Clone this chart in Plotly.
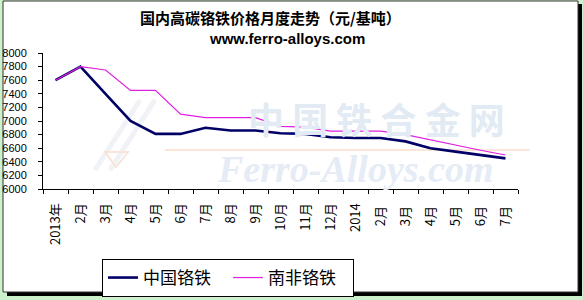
import plotly.graph_objects as go

categories = ["2013年", "2月", "3月", "4月", "5月", "6月", "7月", "8月", "9月", "10月",
              "11月", "12月", "2014", "2月 ", "3月 ", "4月 ", "5月 ", "6月 ", "7月 "]
china = [7600, 7800, 7400, 7000, 6810, 6810, 6900, 6860, 6860, 6820,
         6810, 6760, 6750, 6750, 6700, 6600, 6550, 6500, 6450]
south_africa = [7600, 7800, 7750, 7450, 7450, 7100, 7050, 7050, 7050, 6920,
                6910, 6850, 6850, 6850, 6800, 6720, 6650, 6570, 6500]
y_ticks = [6000, 6200, 6400, 6600, 6800, 7000, 7200, 7400, 7600, 7800, 8000]

W, H = 583, 300
L, R, T, B = 43, 518, 53, 189

def px(x):
    return (x - L) / (R - L)

def py(y):
    return (B - y) / (B - T)

fig = go.Figure()
fig.add_trace(go.Scatter(x=categories, y=china, mode="lines", name="中国铬铁",
                         line=dict(color="#000066", width=2.6)))
fig.add_trace(go.Scatter(x=categories, y=south_africa, mode="lines", name="南非铬铁",
                         line=dict(color="#e020e0", width=1.2)))

shapes = [
    dict(type="rect", xref="paper", yref="paper", x0=px(577), x1=px(582), y0=py(296), y1=py(4),
         fillcolor="black", line=dict(width=0), layer="below"),
    dict(type="rect", xref="paper", yref="paper", x0=px(7), x1=px(582), y0=py(296), y1=py(291),
         fillcolor="black", line=dict(width=0), layer="below"),
    dict(type="rect", xref="paper", yref="paper", x0=px(3), x1=px(578), y0=py(292), y1=py(1),
         fillcolor="white", line=dict(color="#333333", width=1), layer="below"),
    dict(type="line", xref="paper", yref="paper", x0=px(165), x1=px(530), y0=py(150), y1=py(150),
         line=dict(color="#fbe6d8", width=2), layer="below"),
    dict(type="line", xref="paper", yref="paper", x0=px(95), x1=px(140), y0=py(170), y1=py(100),
         line=dict(color="#f0f2f6", width=5), layer="below"),
    dict(type="line", xref="paper", yref="paper", x0=px(110), x1=px(155), y0=py(170), y1=py(100),
         line=dict(color="#f0f2f6", width=5), layer="below"),
    dict(type="path", xref="paper", yref="paper",
         path=f"M {px(105)} {py(152)} L {px(128)} {py(152)} L {px(116)} {py(167)} Z",
         line=dict(color="#f9e4da", width=2), layer="below"),
]

annotations = [
    dict(text="<b>中 国 铁 合 金 网</b>", x=px(376), y=py(118), xref="paper", yref="paper", showarrow=False,
         font=dict(family="Noto Sans CJK SC", size=36, color="#e2eaf4"),
         xanchor="center", yanchor="middle"),
    dict(text="<i><b>Ferro-Alloys.com</b></i>", x=px(355), y=py(169), xref="paper", yref="paper",
         showarrow=False, font=dict(family="Liberation Serif", size=38, color="#e5ecf6"),
         xanchor="center", yanchor="middle"),
    dict(text="<b>国内高碳铬铁价格月度走势（元/基吨）</b>", x=px(270), y=py(17), xref="paper", yref="paper",
         showarrow=False, font=dict(family="Noto Sans CJK SC", size=15, color="black"),
         xanchor="center", yanchor="middle"),
    dict(text="<b>www.ferro-alloys.com</b>", x=px(287), y=py(39), xref="paper", yref="paper",
         showarrow=False, font=dict(family="Liberation Sans", size=15, color="black"),
         xanchor="center", yanchor="middle"),
]

fig.update_layout(
    width=W, height=H,
    margin=dict(l=L, r=W - R, t=T, b=H - B, pad=0, autoexpand=False),
    paper_bgcolor="#cdf0cd",
    plot_bgcolor="rgba(0,0,0,0)",
    shapes=shapes,
    annotations=annotations,
    showlegend=True,
    legend=dict(orientation="h", x=px(102), y=py(259), xanchor="left", yanchor="top",
                bordercolor="black", borderwidth=1, bgcolor="white",
                font=dict(family="Noto Sans CJK SC", size=17, color="black"),
                entrywidth=80, entrywidthmode="pixels", itemwidth=30, tracegroupgap=0),
    xaxis=dict(type="category", range=[-0.5, 18.5], tickson="boundaries", ticks="outside",
               ticklen=4, tickcolor="black", showline=True, linecolor="black", linewidth=1,
               showgrid=False, tickangle=-90, zeroline=False, automargin=False,
               ticklabelstandoff=8,
               tickfont=dict(family="Noto Sans CJK SC", size=13, color="black")),
    yaxis=dict(range=[6000, 8000], tickvals=y_ticks, ticks="outside", ticklen=4,
               tickcolor="black", showline=True, linecolor="black", linewidth=1,
               showgrid=False, zeroline=False, ticklabelstandoff=9, automargin=False,
               tickfont=dict(family="Liberation Sans", size=11, color="black")),
)

fig.write_html("out.html")
